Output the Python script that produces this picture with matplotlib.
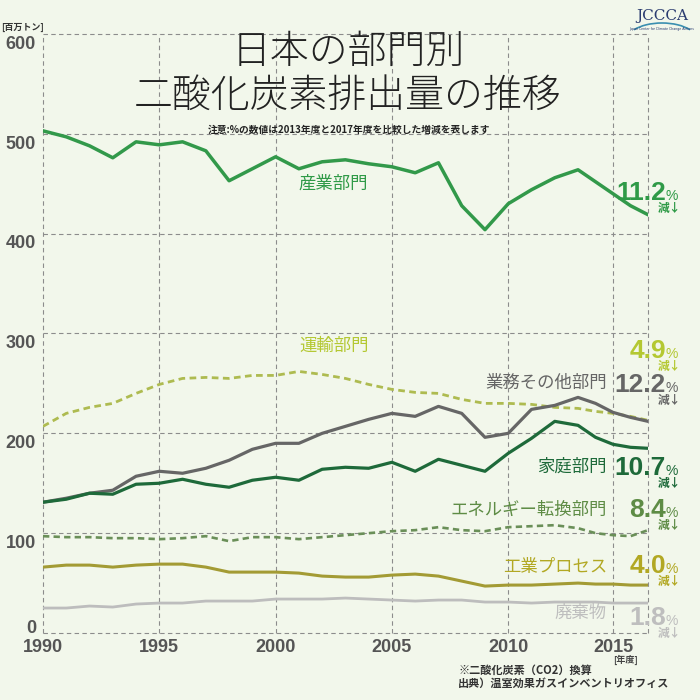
import numpy as np
import matplotlib
matplotlib.use("Agg")
import matplotlib.pyplot as plt
import matplotlib.transforms as mtransforms
from matplotlib.patches import Arc

JP=["Noto Sans CJK JP","DejaVu Sans"]
NUM=["Liberation Sans Narrow","Liberation Sans","DejaVu Sans"]
BG="#F2F7EB"

#data (million t CO2, fiscal years)
years=np.arange(1990,2018)

industry=[503,497,488,476,492,489,492,483,453,465,477,465,472,474,
          470,467,461,471,428,404,430,444,456,464,452,440,428,419]
transport=[207,220,226,230,240,249,255,256,255,258,258,262,259,255,
           249,244,241,240,234,230,230,229,226,225,222,220,217,213]
commercial=[131,135,140,143,157,162,160,165,173,184,190,190,200,207,
            214,220,217,227,220,196,200,224,228,236,230,221,216,212]
household=[131,134,140,139,149,150,154,149,146,153,156,153,164,166,
           165,171,162,174,168,162,180,195,212,208,196,189,186,185]
energy=[97,96,96,95,95,94,95,97,92,96,96,94,96,98,
        100,102,103,106,103,102,106,107,108,105,100,98,97,103]
process=[66,68,68,66,68,69,69,66,61,61,61,60,57,56,
         56,58,59,57,52,47,48,48,49,50,49,49,48,48]
waste=[25,25,27,26,29,30,30,32,32,32,34,34,34,35,
       34,33,32,33,33,31,31,30,31,31,31,30,30,30]

names=["産業部門","運輸部門","業務その他部門","家庭部門",
       "エネルギー転換部門","工業プロセス","廃棄物"]
changes=["11.2","4.9","12.2","10.7","8.4","4.0","1.8"]

line_colors=["#32994A","#AEBB50","#666666","#1E6A3A","#6A8F58","#A39B34","#BDBDBD"]
text_colors=["#2F9A47","#B4C832","#666666","#1E6A3A","#5E8C45","#B2A823","#BEBEBE"]

#x axis is squeezed after 2013 in the original
def fwd(x):
    x=np.asarray(x,dtype=float)
    return np.where(x>2013,2013+(x-2013)*0.752,x)

def inv(u):
    u=np.asarray(u,dtype=float)
    return np.where(u>2013,2013+(u-2013)/0.752,u)

def px(x,y):
    return x/700,1-y/700


fig=plt.figure(figsize=(7,7),dpi=100,facecolor=BG)
ax=fig.add_axes([43/700,67/700,605/700,599/700])
ax.set_facecolor(BG)
ax.set_xscale("function",functions=(fwd,inv))
ax.set_xlim(1990,2017)
ax.set_ylim(0,600)

#grid (also used as the frame)
grid_kw=dict(color="#8C8C8C",lw=0.8,ls=(0,(4,3)),zorder=1,clip_on=False)
for v in range(0,601,100):
    ax.axhline(v,**grid_kw)
for yr in [1990,1995,2000,2005,2010,2015,2017]:
    ax.axvline(yr,**grid_kw)
for s in ax.spines.values():
    s.set_visible(False)

#lines
ax.plot(years,waste,color=line_colors[6],lw=2.0,zorder=3)
ax.plot(years,process,color=line_colors[5],lw=2.2,zorder=3)
ax.plot(years,energy,color=line_colors[4],lw=1.9,ls=(0,(2.4,1.6)),zorder=3)
ax.plot(years,transport,color=line_colors[1],lw=2.0,ls=(0,(2.4,1.6)),zorder=3)
ax.plot(years,commercial,color=line_colors[2],lw=2.3,zorder=4)
ax.plot(years,household,color=line_colors[3],lw=2.3,zorder=4)
ax.plot(years,industry,color=line_colors[0],lw=2.5,zorder=4)

#ticks
ax.set_xticks([1990,1995,2000,2005,2010,2015])
ax.set_xticklabels(["1990","1995","2000","2005","2010","2015"])
ax.set_yticks(range(0,601,100))
ax.tick_params(length=0,labelcolor="#555555")
ax.tick_params(axis="y",pad=5)
ax.tick_params(axis="x",pad=4)
for lab in ax.get_xticklabels():
    lab.set_fontfamily(NUM)
    lab.set_fontweight("bold")
    lab.set_fontsize(13)
for lab in ax.get_yticklabels():
    lab.set_fontfamily(NUM)
    lab.set_fontweight("bold")
    lab.set_fontsize(13)
    dy=5/72 if lab.get_text()=="0" else -6/72
    lab.set_transform(lab.get_transform()+mtransforms.ScaledTranslation(0,dy,fig.dpi_scale_trans))

#title and notes
fig.text(*px(348,52),"日本の部門別",ha="center",va="center",fontsize=28,
         family=JP,weight="light",color="#222222")
fig.text(*px(348,96),"二酸化炭素排出量の推移",ha="center",va="center",fontsize=28,
         family=JP,weight="light",color="#222222")
fig.text(*px(349,130),"注意:%の数値は2013年度と2017年度を比較した増減を表します",
         ha="center",va="center",fontsize=7,family=JP,weight="bold",color="#222222")
fig.text(*px(22,27),"[百万トン]",ha="center",va="center",fontsize=6.5,
         family=JP,weight="bold",color="#333333")
fig.text(*px(626,660),"[年度]",ha="center",va="center",fontsize=6.5,
         family=JP,weight="bold",color="#444444")
fig.text(*px(458,670),"※二酸化炭素（CO2）換算",ha="left",va="center",fontsize=8,
         family=JP,weight="bold",color="#333333")
fig.text(*px(458,683),"出典）温室効果ガスインベントリオフィス",ha="left",va="center",fontsize=8,
         family=JP,weight="bold",color="#333333")

#logo
fig.text(*px(662,16),"JCCCA",ha="center",va="center",fontsize=11,family="DejaVu Serif",
         color="#2B3C70")
fig.text(*px(662,29),"Japan Center for Climate Change Actions",ha="center",va="center",
         fontsize=2.3,color="#2B3C70")
fig.add_artist(Arc(px(662,40),70/700,34/700,theta1=20,theta2=160,
                   transform=fig.transFigure,color="#3A8FB0",lw=1.2))

#series labels
blend=mtransforms.blended_transform_factory(fig.transFigure,ax.transData)
ax.text(2001,450,names[0],ha="left",va="center",fontsize=12.5,family=JP,
        color=text_colors[0],zorder=5)
ax.text(2001,288,names[1],ha="left",va="center",fontsize=12.5,family=JP,
        color=text_colors[1],zorder=5)
label_y=[None,None,251,167,123,66,20]
for i in range(2,7):
    ax.text(607/700,label_y[i],names[i],transform=blend,ha="right",va="center",
            fontsize=12.5,family=JP,color=text_colors[i],zorder=5)

#percent changes on the right
base_y=[200,358,392,475,517,573,625]
for i in range(7):
    c=text_colors[i]
    fig.text(*px(666,base_y[i]),changes[i],ha="right",va="baseline",fontsize=19,
             family=NUM,weight="bold",color=c)
    fig.text(*px(666,base_y[i]),"%",ha="left",va="baseline",fontsize=10,
             family=NUM,color=c)
    fig.text(*px(681,base_y[i]+8),"減↓",ha="right",va="center",fontsize=8.5,
             family=JP,weight="bold",color=c)

fig.savefig("out.png",dpi=100,facecolor=BG)
